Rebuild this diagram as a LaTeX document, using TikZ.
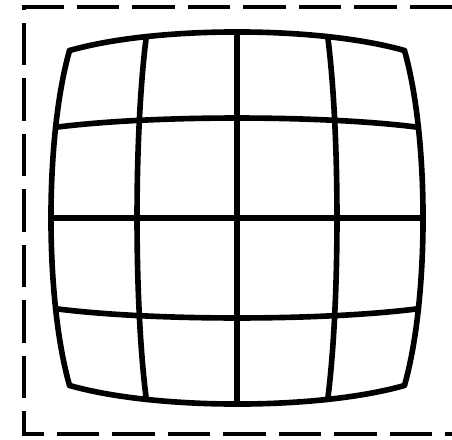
\documentclass[tikz,border=0pt]{standalone}
\usetikzlibrary{calc}
\tikzset{
  framedash/.style={line width=1.9pt, dash pattern=on 0.85cm off 0.26cm},
  gridline/.style={line width=3.2pt, line join=round, line cap=round}
}
% barrel factor for a grid point (u,v)
\newcommand{\barrelf}[2]{(102.3-2.32*((#1)*(#1)+(#2)*(#2)))}

\begin{document}
\begin{tikzpicture}[x=0.02cm, y=-0.02cm]
  \useasboundingbox (0,0) rectangle (452,439);

  % Dashed frame, open on the right
  \draw[framedash] (452,7) -- (24,7) -- (24,434) -- (452,434);

  % Vertical grid lines
  \foreach \u in {-2,...,2}
    \draw[gridline] plot[domain=-2:2, samples=41]
      ({237+(\u)*\barrelf{\u}{\x}}, {218+(\x)*\barrelf{\u}{\x}});

  % Horizontal grid lines
  \foreach \v in {-2,...,2}
    \draw[gridline] plot[domain=-2:2, samples=41]
      ({237+(\x)*\barrelf{\x}{\v}}, {218+(\v)*\barrelf{\x}{\v}});

\end{tikzpicture}
\end{document}
